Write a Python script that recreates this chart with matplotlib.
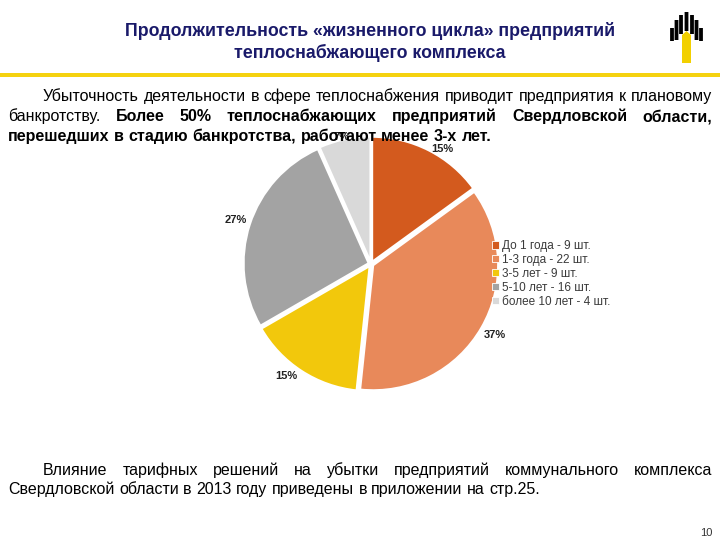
import matplotlib

matplotlib.use("Agg")
import matplotlib.pyplot as plt
from matplotlib import font_manager
from matplotlib.font_manager import FontProperties
from matplotlib.patches import Rectangle, Polygon

# data
labels = ["До 1 года - 9 шт.", "1-3 года - 22 шт.", "3-5 лет - 9 шт.",
          "5-10 лет - 16 шт.", "более 10 лет - 4 шт."]
counts = [9, 22, 9, 16, 4]
colors = ["#D35A1E", "#E8895A", "#F2C80C", "#A3A3A3", "#D9D9D9"]

title_lines = ["Продолжительность «жизненного цикла» предприятий",
               "теплоснабжающего комплекса"]

# paragraph lines: list of (text, bold) runs
para1 = [
    [("Убыточность деятельности в сфере теплоснабжения приводит предприятия к плановому", False)],
    [("банкротству.", False),
     ("Более 50% теплоснабжающих предприятий Свердловской области,", True)],
    [("перешедших в стадию банкротства, работают менее 3-х лет.", True)],
]
para2 = [
    [("Влияние тарифных решений на убытки предприятий коммунального комплекса", False)],
    [("Свердловской области в 2013 году приведены в приложении на стр.25.", False)],
]
page_number = "10"

W, H = 720, 540
fig = plt.figure(figsize=(7.2, 5.4), dpi=100)
fig.patch.set_facecolor("white")
renderer = fig.canvas.get_renderer()

names = {f.name for f in font_manager.fontManager.ttflist}
narrow = "Liberation Sans Narrow" if "Liberation Sans Narrow" in names else "Liberation Sans"
body = "Liberation Sans"


def fx(x):
    return x / W


def fy(y):
    return 1 - y / H


def text_line(runs, x0, x1, y, justify, size=11.5):
    words = []
    for txt, bold in runs:
        for w in txt.split():
            words.append((w, bold))
    arts = []
    for w, bold in words:
        fp = FontProperties(family=narrow, size=size,
                            weight="bold" if bold else "normal")
        t = fig.text(fx(x0), fy(y), w, ha="left", va="baseline",
                     fontproperties=fp, color="black", zorder=5)
        arts.append(t)
    widths = [a.get_window_extent(renderer).width for a in arts]
    fp = FontProperties(family=narrow, size=size)
    space = fig.text(0, 0, "a a", fontproperties=fp)
    aa = fig.text(0, 0, "aa", fontproperties=fp)
    gap = space.get_window_extent(renderer).width - aa.get_window_extent(renderer).width
    space.remove()
    aa.remove()
    if justify and len(arts) > 1:
        gap = (x1 - x0 - sum(widths)) / (len(arts) - 1)
    x = x0
    for a, wdt in zip(arts, widths):
        a.set_x(fx(x))
        x += wdt + gap


# title
for i, line in enumerate(title_lines):
    fig.text(fx(370), fy(31 + 22 * i), line, ha="center", va="center",
             fontsize=12.8, fontweight="bold", color="#1A1A6A", family=body)

# yellow rule
fig.add_artist(Rectangle((0, fy(77)), 1, 4 / H, transform=fig.transFigure,
                         color="#F5D20F", lw=0))

# logo (rough)
fig.add_artist(Polygon([(fx(682), fy(63)), (fx(691), fy(63)), (fx(691), fy(35)),
                        (fx(686.5), fy(31)), (fx(682), fy(35))],
                       transform=fig.transFigure, color="#F2D000", lw=0))
stripes = [(672, 28, 41), (676.5, 20, 40), (681, 15, 34), (686.5, 12, 31),
           (692, 15, 34), (696.5, 20, 40), (701, 28, 41)]
for x, top, bot in stripes:
    fig.add_artist(Rectangle((fx(x - 1.9), fy(bot)), 3.8 / W, (bot - top) / H,
                             transform=fig.transFigure, color="black", lw=0,
                             snap=False))

# paragraphs
text_line(para1[0], 43, 712, 101, True)
text_line(para1[1], 8, 712, 121, True)
text_line(para1[2], 8, 712, 141, False)
text_line(para2[0], 43, 712, 475, True)
text_line(para2[1], 8, 712, 494, False)

fig.text(fx(706), fy(536), page_number, ha="center", va="baseline",
         fontsize=8, family=narrow, color="#333333")

# pie
cx, cy = 371, 264
ax = fig.add_axes([fx(cx - 130), fy(cy + 130), 260 / W, 260 / H])
wedges, _, autotexts = ax.pie(
    counts, colors=colors, startangle=90, counterclock=False,
    explode=[0.02] * len(counts),
    autopct=lambda p: f"{p:.0f}%", pctdistance=1.12,
    wedgeprops=dict(edgecolor="white", linewidth=1.5),
    textprops=dict(fontsize=8, fontweight="bold", color="#222222", family=body),
)
ax.set_xlim(-1.04, 1.04)
ax.set_ylim(-1.04, 1.04)
ax.set_aspect("equal")
ax.axis("off")
# nudge labels (pixels) to where the original slide puts them
nudges = [(7, -12), (0, 0), (-7, 8), (0, 0), (0, -12)]
px = 2.08 / 260
for a, (dx, dy) in zip(autotexts, nudges):
    x, y = a.get_position()
    a.set_position((x + dx * px, y + dy * px))
    a.set_zorder(1)
    a.set_clip_on(False)
ax.set_zorder(1)

leg = fig.legend(wedges, labels, loc="upper left",
                 bbox_to_anchor=(fx(492), fy(240)), frameon=False,
                 prop=dict(family=body, size=8.5), labelcolor="#3A3A3A",
                 handlelength=0.6, handleheight=0.6, handletextpad=0.25,
                 labelspacing=0.16, borderaxespad=0, borderpad=0)
for h in leg.legend_handles:
    h.set_edgecolor("white")
    h.set_linewidth(0.6)

fig.savefig("out.png", dpi=100)
